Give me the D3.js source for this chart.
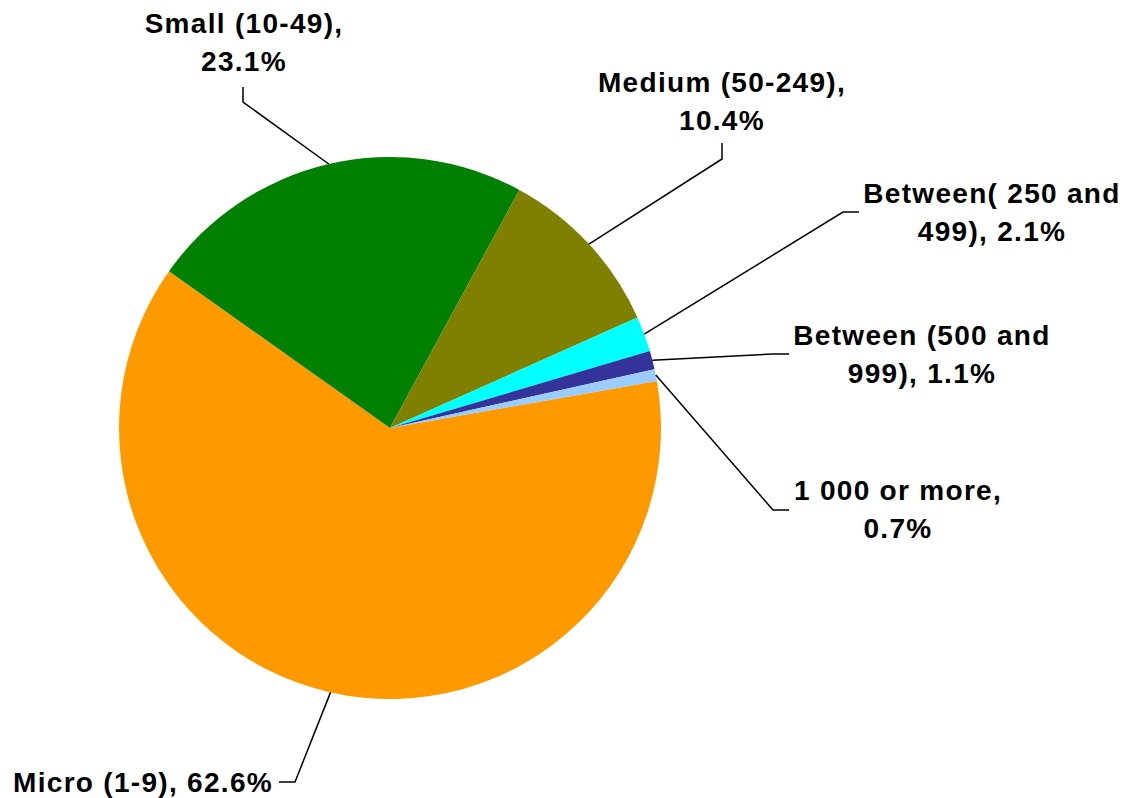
<!DOCTYPE html>
<html>
  <head>
    <meta charset="utf-8" />
    <title>Enterprises by size class</title>
    <script src="https://d3js.org/d3.v7.min.js" charset="utf-8"></script>
    <style>
      html,
      body {
        margin: 0;
        padding: 0;
        background-color: #ffffff;
      }
      .label {
        font-family: "Liberation Sans", Arial, sans-serif;
        font-weight: bold;
        font-size: 28px;
        letter-spacing: 1.3px;
        fill: #000000;
      }
    </style>
  </head>

  <body>
    <svg id="chart"></svg>

    <script>
      // Data, in drawing order (clockwise from the first slice)
      const categories = [
        "Micro (1-9)",
        "Small (10-49)",
        "Medium (50-249)",
        "Between( 250 and 499)",
        "Between (500 and 999)",
        "1 000 or more"
      ];
      const shares = [62.6, 23.1, 10.4, 2.1, 1.1, 0.7];
      // label text, split the way the reference wraps it
      const labelLines = [
        ["Micro (1-9), 62.6%"],
        ["Small (10-49),", "23.1%"],
        ["Medium (50-249),", "10.4%"],
        ["Between( 250 and", "499), 2.1%"],
        ["Between (500 and", "999), 1.1%"],
        ["1 000 or more,", "0.7%"]
      ];
      const colours = ["#FF9900", "#008000", "#808000", "#00FFFF", "#333399", "#99CCFF"];

      // SVG size
      const width = 1126;
      const height = 798;

      // pie geometry
      const cx = 390;
      const cy = 428;
      const radius = 271;
      const firstSliceAngle = (80 * Math.PI) / 180;

      // label placement: text x, first baseline y, text anchor,
      // and the elbow of the leader line (bend point + end point)
      const lineHeight = 38;
      const labelLayout = [
        { x: 273, y: 792, anchor: "end", bend: [295, 782], end: [279, 782] },
        { x: 244, y: 33, anchor: "middle", bend: [243, 102], end: [243, 87] },
        { x: 722, y: 92, anchor: "middle", bend: [722, 159], end: [722, 143] },
        { x: 992, y: 203, anchor: "middle", bend: [843, 212], end: [859, 212] },
        { x: 922, y: 345, anchor: "middle", bend: [773, 354], end: [789, 354] },
        { x: 898, y: 500, anchor: "middle", bend: [773, 510], end: [789, 510] }
      ];

      const svg = d3
        .select("#chart")
        .attr("width", width)
        .attr("height", height);

      const plotArea = svg
        .append("g")
        .attr("transform", `translate(${cx},${cy})`);

      const data = categories.map((c, i) => ({
        name: c,
        value: shares[i],
        colour: colours[i],
        lines: labelLines[i],
        layout: labelLayout[i]
      }));

      const pie = d3
        .pie()
        .sort(null)
        .value((d) => d.value)
        .startAngle(firstSliceAngle)
        .endAngle(firstSliceAngle + 2 * Math.PI);

      const arc = d3.arc().innerRadius(0).outerRadius(radius);
      const edgeArc = d3.arc().innerRadius(radius).outerRadius(radius);

      const arcs = pie(data);

      // slices
      plotArea
        .selectAll("path.slice")
        .data(arcs)
        .enter()
        .append("path")
        .attr("class", "slice")
        .attr("d", arc)
        .style("fill", (d) => d.data.colour);

      // leader lines: from the slice edge at its mid angle to the label
      plotArea
        .selectAll("polyline")
        .data(arcs)
        .enter()
        .append("polyline")
        .attr("points", (d) => {
          const start = edgeArc.centroid(d);
          const bend = [d.data.layout.bend[0] - cx, d.data.layout.bend[1] - cy];
          const end = [d.data.layout.end[0] - cx, d.data.layout.end[1] - cy];
          return [start, bend, end].map((p) => p.join(",")).join(" ");
        })
        .style("fill", "none")
        .style("stroke", "#000")
        .style("stroke-width", 1.5);

      // labels
      const labels = svg
        .selectAll("text.label")
        .data(data)
        .enter()
        .append("text")
        .attr("class", "label")
        .attr("text-anchor", (d) => d.layout.anchor);

      labels
        .selectAll("tspan")
        .data((d) => d.lines.map((t, i) => ({ t, i, layout: d.layout })))
        .enter()
        .append("tspan")
        .attr("x", (d) => d.layout.x)
        .attr("y", (d) => d.layout.y + d.i * lineHeight)
        .text((d) => d.t);
    </script>
  </body>
</html>
